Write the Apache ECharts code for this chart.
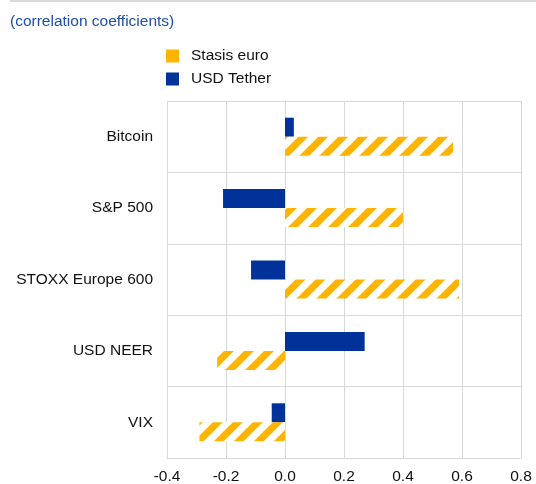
<!DOCTYPE html>
<html>
<head>
<meta charset="utf-8">
<script src="https://cdn.jsdelivr.net/npm/echarts@6/dist/echarts.min.js"></script>
<style>
  html, body { margin: 0; padding: 0; background: #fff; }
  #chart { width: 536px; height: 484px; }
</style>
</head>
<body>
<div id="chart"></div>
<script>
const categories = ['Bitcoin', 'S&P 500', 'STOXX Europe 600', 'USD NEER', 'VIX'];
const stasisEuro = [0.57, 0.40, 0.59, -0.23, -0.29];
const usdTether = [0.03, -0.21, -0.115, 0.27, -0.045];
const xTicks = [-0.4, 0.8, 0.2];   // min, max, interval

// diagonal orange / white stripes for Stasis euro
const makeHatch = () => {
    const c = document.createElement('canvas');
    c.width = 20; c.height = 20;
    const ctx = c.getContext('2d');
    ctx.fillStyle = '#fff';
    ctx.fillRect(0, 0, 20, 20);
    ctx.strokeStyle = '#ffb400';
    ctx.lineWidth = 7;
    [[-10, 10, 10, -10], [0, 20, 20, 0], [10, 30, 30, 10]].forEach(([x1, y1, x2, y2]) => {
        ctx.beginPath();
        ctx.moveTo(x1, y1);
        ctx.lineTo(x2, y2);
        ctx.stroke();
    });
    return c;
};

const chart = echarts.init(document.getElementById('chart'), null, { renderer: 'canvas' });
const font = 'Arial, "Liberation Sans", sans-serif';
const gridColor = '#d9d9d9';
const fs = 15.5;

chart.setOption({
    animation: false,
    backgroundColor: '#fff',
    textStyle: { fontFamily: font },
    title: {
        text: '(correlation coefficients)',
        left: 10, top: 14, padding: 0,
        textStyle: { color: '#1f4fa8', fontSize: fs, fontWeight: 'normal', fontFamily: font }
    },
    graphic: [{
        type: 'line',
        shape: { x1: 10, y1: 1, x2: 536, y2: 1 },
        style: { stroke: gridColor, lineWidth: 2 }
    }],
    legend: {
        orient: 'vertical',
        left: 166, top: 48, padding: 0,
        itemWidth: 13, itemHeight: 13, itemGap: 7,
        textStyle: { color: '#111', fontSize: fs, fontFamily: font, padding: [0, 0, 0, 7] },
        data: [
            { name: 'Stasis euro', icon: 'rect', itemStyle: { color: '#ffb400' } },
            { name: 'USD Tether', icon: 'rect', itemStyle: { color: '#003299' } }
        ]
    },
    grid: { left: 167, right: 15, top: 101, bottom: 26, containLabel: false, outerBoundsMode: 'none' },
    xAxis: {
        type: 'value',
        min: xTicks[0], max: xTicks[1], interval: xTicks[2],
        axisLine: { show: true, lineStyle: { color: gridColor } },
        axisTick: { show: false },
        axisLabel: { color: '#111', fontSize: fs, margin: 11, formatter: v => v.toFixed(1) },
        splitLine: { show: true, lineStyle: { color: gridColor } }
    },
    yAxis: {
        type: 'category',
        inverse: true,
        data: categories,
        axisLine: { show: true, lineStyle: { color: gridColor } },
        axisTick: { show: false },
        axisLabel: { color: '#111', fontSize: fs, margin: 14 },
        splitLine: { show: true, lineStyle: { color: gridColor } }
    },
    series: [
        {
            name: 'USD Tether',
            type: 'bar',
            data: usdTether,
            barWidth: 19,
            barGap: '0%',
            itemStyle: { color: '#003299' }
        },
        {
            name: 'Stasis euro',
            type: 'bar',
            data: stasisEuro,
            barWidth: 19,
            barGap: '0%',
            itemStyle: { color: { image: makeHatch(), repeat: 'repeat' } }
        }
    ]
});
</script>
</body>
</html>
